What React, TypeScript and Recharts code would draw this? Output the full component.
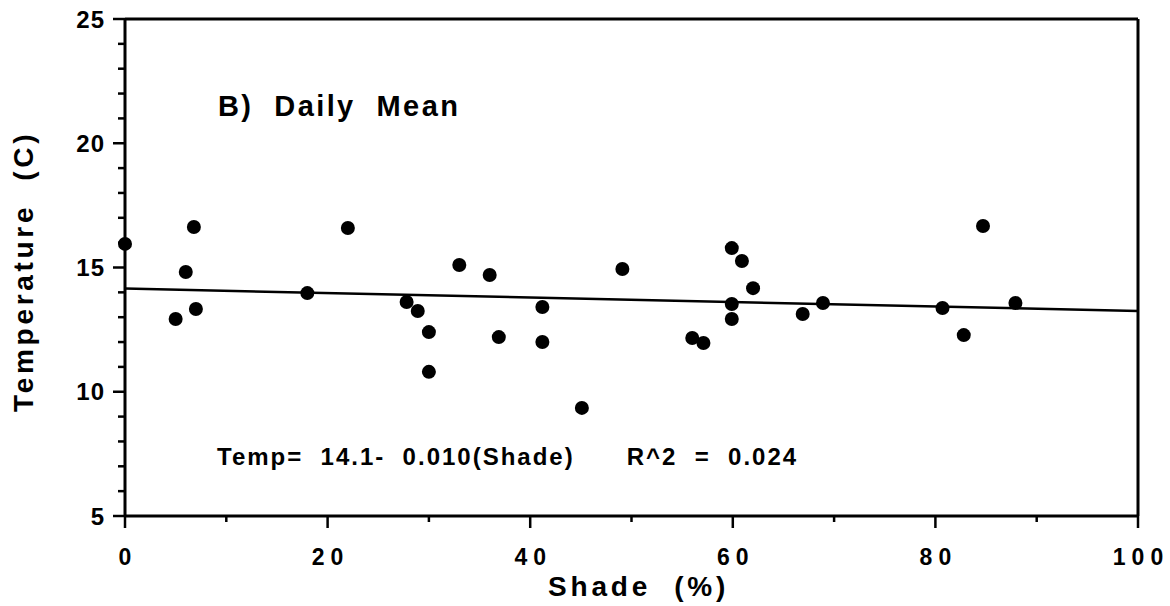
import {
  ScatterChart,
  Scatter,
  XAxis,
  YAxis,
  ReferenceLine,
  Label,
  Customized,
} from "recharts";

// shade (%) and daily mean temperature (C)
const shade = [0, 5, 6, 6.8, 7, 18, 22, 27.8, 28.9, 30, 30, 33, 36, 36.9, 41.2, 41.2, 45.1, 49.1, 56, 57.1, 59.9, 59.9, 59.9, 60.9, 62, 66.9, 68.9, 80.7, 82.8, 84.7, 87.9];
const temp = [15.95, 12.93, 14.82, 16.63, 13.33, 13.97, 16.59, 13.61, 13.25, 12.4, 10.8, 15.1, 14.7, 12.2, 13.41, 12.0, 9.35, 14.94, 12.16, 11.96, 15.78, 13.53, 12.93, 15.26, 14.17, 13.13, 13.57, 13.37, 12.28, 16.67, 13.57];

// fitted line end points
const fitX = [0, 100];
const fitY = [14.15, 13.25];

const xTicks = [0, 10, 20, 30, 40, 50, 60, 70, 80, 90, 100];
const yTicks = [5, 6, 7, 8, 9, 10, 11, 12, 13, 14, 15, 16, 17, 18, 19, 20, 21, 22, 23, 24, 25];

const points = shade.map((x, i) => ({ x, y: temp[i] }));
const fit = fitX.map((x, i) => ({ x, y: fitY[i] }));

const font = "'Liberation Sans', Arial, sans-serif";

const Dot = (p: any) => <circle cx={p.cx} cy={p.cy} r={7} fill="#000" />;
const NoDot = () => null;

const YTick = (p: any) => {
  const v = p.payload.value;
  const major = v % 5 === 0;
  return (
    <g>
      <line x1={p.x - (major ? 12 : 7)} x2={p.x} y1={p.y} y2={p.y} stroke="#000" strokeWidth={2.5} />
      {major && (
        <text x={p.x - 20} y={p.y} textAnchor="end" dominantBaseline="central" fontSize={24} fontWeight={700} letterSpacing={1} fontFamily={font} fill="#000">
          {v}
        </text>
      )}
    </g>
  );
};

const XTick = (p: any) => {
  const v = p.payload.value;
  const major = v % 20 === 0;
  return (
    <g>
      <line x1={p.x} x2={p.x} y1={p.y} y2={p.y + (major ? 12 : 6)} stroke="#000" strokeWidth={2.5} />
      {major && (
        <text x={p.x + 3} y={p.y + 49} textAnchor="middle" fontSize={23} fontWeight={700} letterSpacing={6} fontFamily={font} fill="#000">
          {v}
        </text>
      )}
    </g>
  );
};

const Notes = () => (
  <g fontFamily={font} fill="#000" fontWeight={700}>
    <text x={218} y={116} fontSize={29} letterSpacing={2.4} xmlSpace="preserve">
      {"B)  Daily  Mean"}
    </text>
    <text x={217} y={465} fontSize={24} letterSpacing={2} xmlSpace="preserve">
      {"Temp=  14.1-  0.010(Shade)      R^2  =  0.024"}
    </text>
  </g>
);

export default function App() {
  return (
    <div style={{ position: "absolute", left: 0, top: 0, background: "#fff" }}>
      <ScatterChart width={1170} height={606} margin={{ top: 19, right: 32, left: 0, bottom: 0 }}>
        <XAxis
          type="number"
          dataKey="x"
          domain={[0, 100]}
          ticks={xTicks}
          interval={0}
          height={90}
          tickLine={false}
          tickSize={0}
          tickMargin={0}
          tick={XTick}
          axisLine={{ stroke: "#000", strokeWidth: 3 }}
        >
          <Label
            content={() => (
              <text x={548} y={596} fontSize={28} fontWeight={700} letterSpacing={3.8} fontFamily={font} fill="#000" xmlSpace="preserve">
                {"Shade  (%)"}
              </text>
            )}
          />
        </XAxis>
        <YAxis
          type="number"
          dataKey="y"
          domain={[5, 25]}
          ticks={yTicks}
          interval={0}
          width={125}
          tickLine={false}
          tickSize={0}
          tickMargin={0}
          tick={YTick}
          axisLine={{ stroke: "#000", strokeWidth: 3 }}
        >
          <Label
            content={() => (
              <text x={33} y={412} transform="rotate(-90 33 412)" fontSize={28} fontWeight={700} letterSpacing={3.7} fontFamily={font} fill="#000" xmlSpace="preserve">
                {"Temperature  (C)"}
              </text>
            )}
          />
        </YAxis>
        <ReferenceLine y={25} stroke="#000" strokeWidth={3} />
        <ReferenceLine x={100} stroke="#000" strokeWidth={3} />
        <Scatter data={fit} line={{ stroke: "#000", strokeWidth: 2.5 }} shape={NoDot} isAnimationActive={false} />
        <Scatter data={points} shape={Dot} fill="#000" isAnimationActive={false} />
        <Customized component={Notes} />
      </ScatterChart>
    </div>
  );
}
